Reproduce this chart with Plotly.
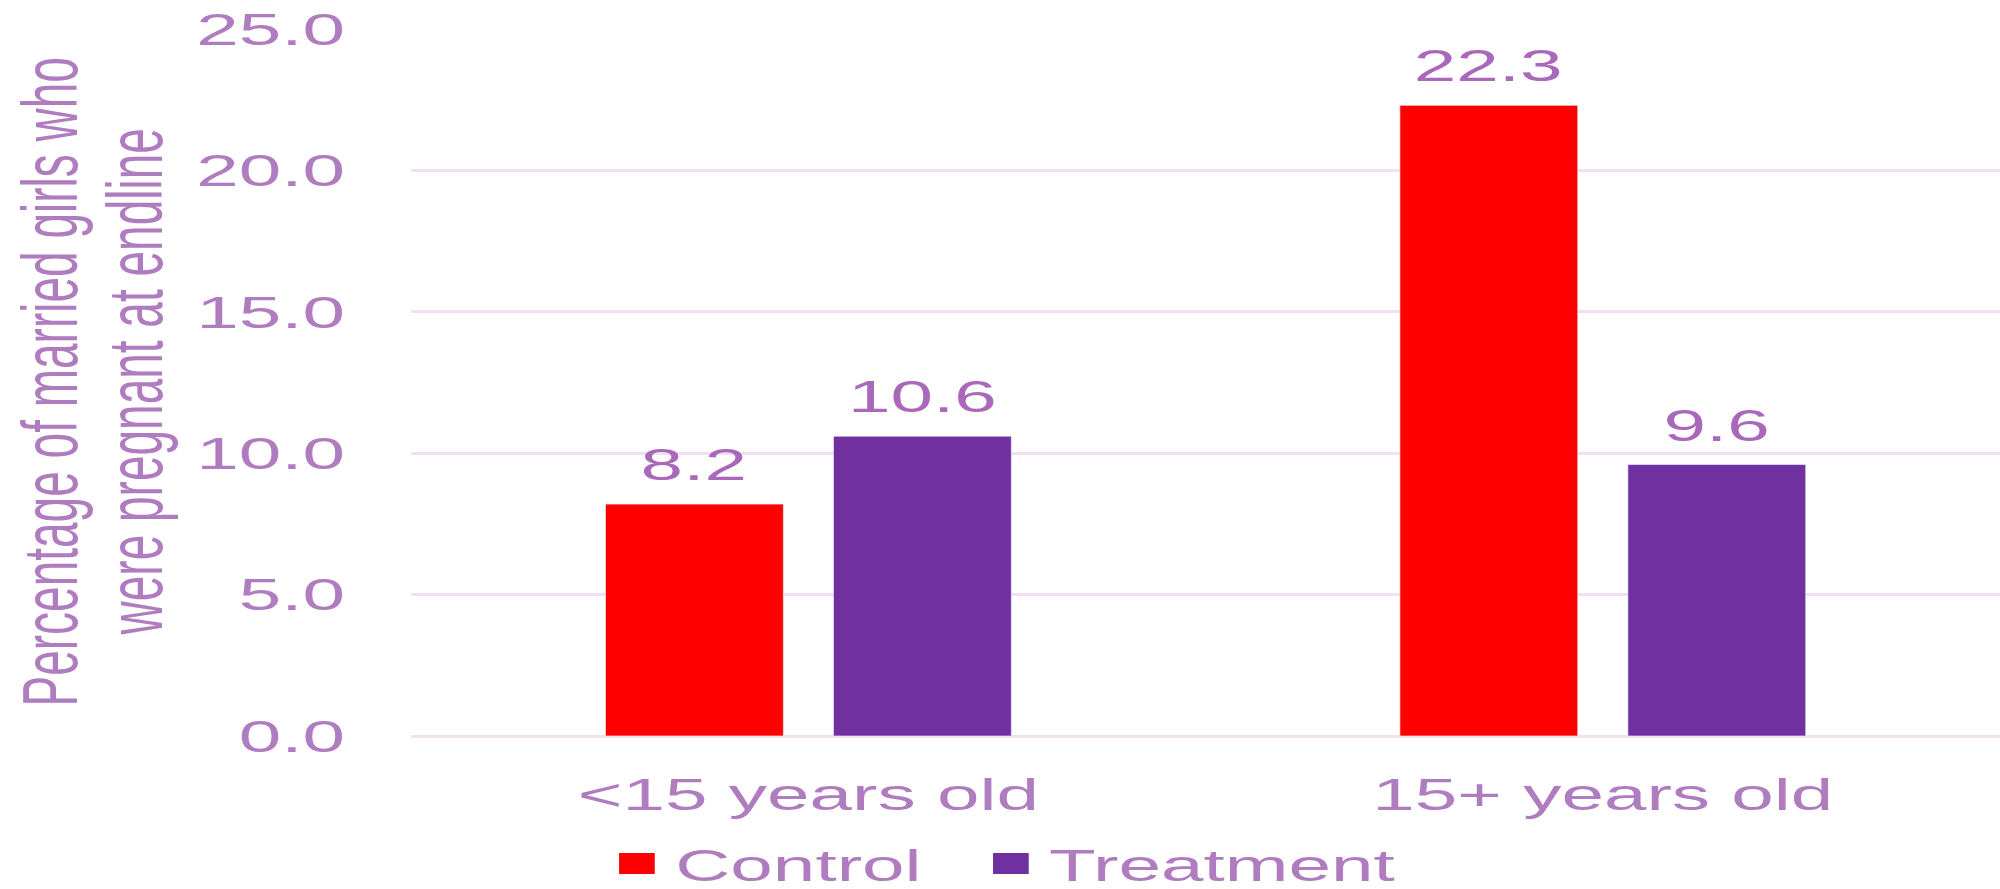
import plotly.graph_objects as go

# Data
categories = ["<15 years old", "15+ years old"]
control = [8.2, 22.3]
treatment = [10.6, 9.6]
y_ticks = [0, 5, 10, 15, 20, 25]
y_title_lines = ["Percentage of married girls who", "were pregnant at endline"]

# Styling
TEXT = "#b07cc0"
LABEL = "#a968b9"
GRID = "#efe0f2"
RED = "#ff0000"
PURPLE = "#7030a0"
FONT = "Liberation Sans, Arial, sans-serif"

# The chart is laid out narrow and then stretched horizontally to fill the page
PAGE_W = 2000
FIG_W = 1177
SX = PAGE_W / FIG_W
M_L, M_R, M_T = 242, 0, 29
PLOT_H = 707
FIG_H = 889
BARGAP, BARGROUPGAP = 0.426, 0.22

fig = go.Figure()
for name, vals, col in [("Control", control, RED), ("Treatment", treatment, PURPLE)]:
    fig.add_trace(go.Bar(name=name, x=categories, y=vals, marker_color=col,
                         showlegend=False))

# legend swatches (larger squares than the default bar icon)
for name, col in [("Control\u00a0\u00a0", RED), ("Treatment", PURPLE)]:
    fig.add_trace(go.Scatter(
        x=[None], y=[None], mode="markers", name=name,
        marker=dict(symbol="square", size=16, color=col, line=dict(width=5, color=col)),
    ))

# value labels above each bar, offset to the centre of its slot in the group
cat_px = (FIG_W - M_L - M_R) / len(categories)
slot_px = cat_px * (1 - BARGAP) / 2
annotations = []
for i, vals in enumerate([control, treatment]):
    shift = (i - 0.5) * slot_px
    for cat, v in zip(categories, vals):
        annotations.append(dict(
            x=cat, y=v, xref="x", yref="y", text=f"{v:.1f}", showarrow=False,
            xanchor="center", yanchor="bottom", xshift=shift, yshift=12,
            font=dict(size=45, color=LABEL, family=FONT),
        ))

# y-axis title, one rotated line each
for line, xs in zip(y_title_lines, [-213, -163]):
    annotations.append(dict(
        x=0, y=0.5, xref="paper", yref="paper", text=line, showarrow=False,
        textangle=-90, xanchor="center", yanchor="middle", xshift=xs,
        font=dict(size=46, color=TEXT, family=FONT),
    ))

fig.update_layout(
    width=FIG_W, height=FIG_H,
    margin=dict(l=M_L, r=M_R, t=M_T, b=FIG_H - M_T - PLOT_H, autoexpand=False),
    paper_bgcolor="white", plot_bgcolor="white",
    barmode="group", bargap=BARGAP, bargroupgap=BARGROUPGAP,
    font=dict(family=FONT, color=TEXT),
    showlegend=True,
    legend=dict(
        orientation="h", x=0.118, xanchor="left", y=-0.1297, yanchor="top",
        font=dict(size=45, color=TEXT, family=FONT),
        itemsizing="trace", itemwidth=35, bgcolor="rgba(0,0,0,0)",
    ),
    annotations=annotations,
)
fig.update_xaxes(
    type="category", showgrid=False, showline=False, zeroline=False, ticks="",
    tickfont=dict(size=45, color=TEXT, family=FONT), ticklabelstandoff=28,
)
fig.update_yaxes(
    range=[0, 25], tickvals=y_ticks, tickformat=".1f",
    showgrid=True, gridcolor=GRID, gridwidth=2.5,
    zeroline=True, zerolinecolor=GRID, zerolinewidth=2.5,
    showline=False, ticks="",
    tickfont=dict(size=45, color=TEXT, family=FONT), ticklabelstandoff=38,
    automargin=False,
)

post = (
    "var gd=document.getElementById('{plot_id}');"
    "document.body.style.margin='0';document.body.style.overflow='hidden';"
    "gd.style.transformOrigin='0 0';"
    "gd.style.transform='scaleX(%.5f)';" % SX
)
fig.write_html("out.html", post_script=post)
